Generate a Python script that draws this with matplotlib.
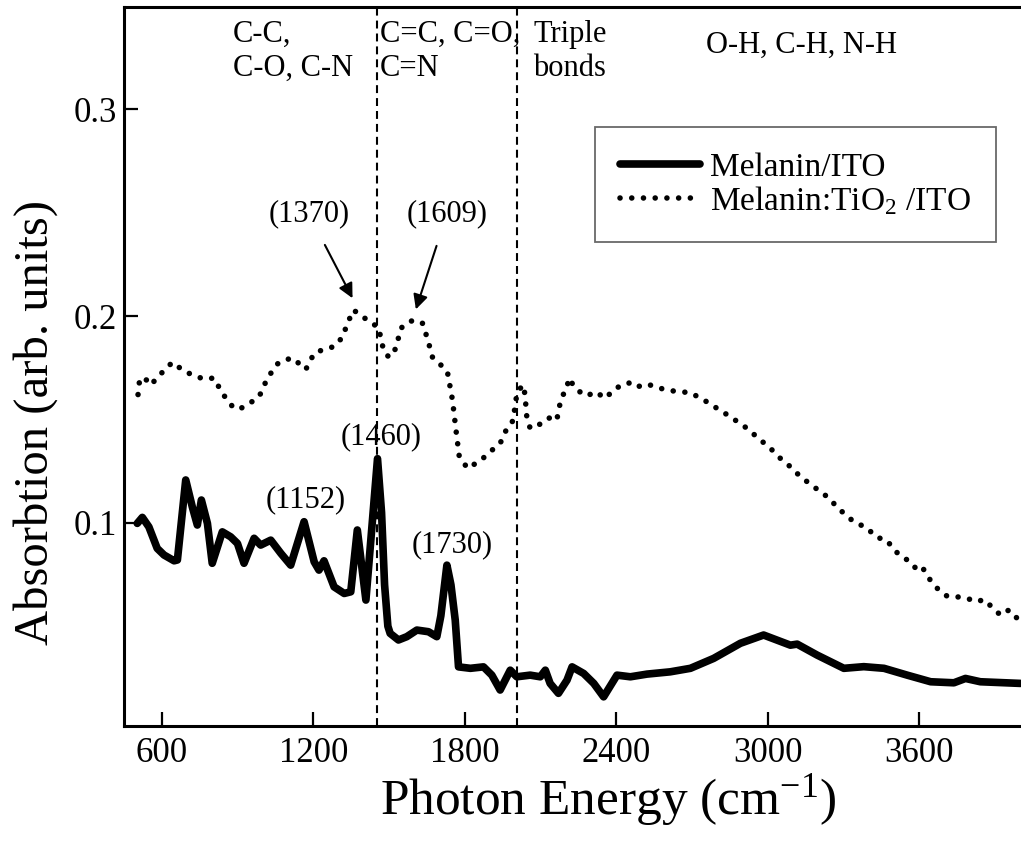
import matplotlib
matplotlib.use("Agg")
import matplotlib.pyplot as plt

plt.rcParams['font.family'] = ['Liberation Serif', 'DejaVu Serif']
plt.rcParams['mathtext.fontset'] = 'custom'
plt.rcParams['mathtext.rm'] = 'Liberation Serif'
plt.rcParams['mathtext.it'] = 'Liberation Serif:italic'

# Melanin/ITO (solid)
ito_x = [502, 522, 548, 581, 608, 648, 661, 694, 720, 740, 756, 780, 799, 839, 872, 899,
         925, 965, 991, 1031, 1071, 1110, 1163, 1203, 1222, 1242, 1282, 1322, 1348, 1374,
         1408, 1454, 1470, 1482, 1495, 1504, 1537, 1570, 1610, 1656, 1689, 1705, 1729,
         1745, 1762, 1775, 1822, 1874, 1907, 1940, 1980, 2006, 2059, 2099, 2119, 2138,
         2171, 2205, 2225, 2271, 2311, 2350, 2403, 2456, 2522, 2614, 2694, 2786, 2892,
         2984, 3090, 3117, 3196, 3302, 3381, 3461, 3553, 3646, 3738, 3784, 3843, 4002]
ito_y = [0.0997, 0.1026, 0.098, 0.0876, 0.0844, 0.0816, 0.082, 0.1207, 0.1077, 0.0989,
         0.111, 0.0997, 0.0804, 0.0956, 0.0932, 0.090, 0.0804, 0.0925, 0.0892, 0.0916,
         0.0852, 0.0795, 0.1005, 0.0811, 0.0771, 0.0816, 0.069, 0.0658, 0.0666, 0.0965,
         0.0626, 0.131, 0.105, 0.07, 0.05, 0.0465, 0.0433, 0.0449, 0.0481, 0.0473, 0.0449,
         0.055, 0.0795, 0.07, 0.0529, 0.0303, 0.0296, 0.0303, 0.0263, 0.0191, 0.0287,
         0.0255, 0.0263, 0.0255, 0.0287, 0.0223, 0.0175, 0.0239, 0.0303, 0.0271, 0.0223,
         0.0158, 0.0263, 0.0255, 0.0268, 0.0279, 0.0296, 0.0344, 0.0417, 0.0457, 0.0408,
         0.0413, 0.036, 0.0296, 0.0304, 0.0296, 0.0263, 0.0231, 0.0226, 0.0247, 0.0231,
         0.0223]

# Melanin:TiO2/ITO (dotted)
tio_x = [505, 512, 540, 555, 595, 641, 687, 730, 767, 806, 839, 885, 912, 950, 985, 1018,
         1057, 1090, 1123, 1150, 1170, 1203, 1242, 1282, 1315, 1335, 1359, 1394, 1434,
         1460, 1467, 1480, 1500, 1527, 1546, 1575, 1599, 1632, 1652, 1672, 1705, 1731,
         1751, 1765, 1778, 1811, 1864, 1916, 1940, 1967, 1993, 2000, 2013, 2033, 2039,
         2046, 2059, 2086, 2112, 2138, 2165, 2171, 2185, 2205, 2211, 2244, 2284, 2317,
         2357, 2396, 2449, 2476, 2522, 2575, 2628, 2694, 2747, 2800, 2852, 2918, 2964,
         3011, 3050, 3090, 3130, 3183, 3236, 3288, 3341, 3394, 3430, 3473, 3500, 3540,
         3566, 3590, 3612, 3640, 3672, 3711, 3778, 3830, 3857, 3923, 3956, 3996]
tio_y = [0.162, 0.170, 0.169, 0.1666, 0.172, 0.1776, 0.1734, 0.171, 0.1695, 0.170, 0.1626,
         0.1553, 0.1553, 0.158, 0.161, 0.170, 0.1768, 0.179, 0.1795, 0.176, 0.1742, 0.182,
         0.1839, 0.1852, 0.1897, 0.1965, 0.2029, 0.1997, 0.1965, 0.194, 0.189, 0.1827,
         0.180, 0.1844, 0.194, 0.197, 0.198, 0.1965, 0.189, 0.180, 0.1763, 0.173, 0.1594,
         0.1448, 0.132, 0.1263, 0.1303, 0.136, 0.1384, 0.1457, 0.1497, 0.1585, 0.1642,
         0.1666, 0.161, 0.1505, 0.1457, 0.1473, 0.1481, 0.151, 0.1497, 0.1545, 0.161,
         0.165, 0.1699, 0.1642, 0.1613, 0.1634, 0.1602, 0.165, 0.1677, 0.1655, 0.1671,
         0.165, 0.1637, 0.1629, 0.1594, 0.1553, 0.1513, 0.1457, 0.1408, 0.136, 0.1312,
         0.1271, 0.1223, 0.1174, 0.1126, 0.1061, 0.1005, 0.0975, 0.093, 0.0916, 0.0868,
         0.083, 0.0811, 0.0775, 0.0787, 0.073, 0.0683, 0.0645, 0.0639, 0.0618, 0.0629,
         0.0553, 0.0578, 0.0529]

region_lines = [1450, 2005]
x_ticks = [600, 1200, 1800, 2400, 3000, 3600]
y_ticks = [0.1, 0.2, 0.3]

fig = plt.figure(figsize=(10.21, 8.43), dpi=100)
ax = fig.add_axes([124/1021, 1-726/843, 1-124/1021, (726-6.7)/843])

ax.plot(ito_x, ito_y, color='black', lw=5.5, solid_joinstyle='round',
        solid_capstyle='round', label='Melanin/ITO', zorder=3)
ax.plot(tio_x, tio_y, color='black', lw=4.0, linestyle=(0, (0.01, 2.1)),
        dash_capstyle='round', label='Melanin:TiO$_2$ /ITO', zorder=3)

for xv in region_lines:
    ax.axvline(xv, color='black', lw=1.5, linestyle=(0, (3.8, 2.4)), zorder=2)

ax.set_xlim(449.4, 4004)
ax.set_ylim(0.0017, 0.3496)
ax.set_xticks(x_ticks)
ax.set_yticks(y_ticks)
ax.set_yticklabels(['0.1', '0.2', '0.3'])
ax.tick_params(axis='both', direction='in', length=10, width=1.6, labelsize=25,
               top=False, right=False)
ax.tick_params(axis='x', pad=8)
ax.tick_params(axis='y', pad=5)
for s in ['left', 'bottom', 'top']:
    ax.spines[s].set_linewidth(2.2)
ax.spines['right'].set_visible(False)

ax.set_xlabel('Photon Energy (cm$^{-1}$)', fontsize=37, va='center')
ax.xaxis.set_label_coords(0.5396, -0.103)
ax.set_ylabel('Absorbtion (arb. units)', fontsize=35, va='center')
ax.yaxis.set_label_coords(-0.0985, 0.4226)

fs = 22
ax.text(881, 0.328, 'C-C,\nC-O, C-N', fontsize=fs, ha='left', va='center', linespacing=1.2)
ax.text(1464, 0.328, 'C=C, C=O,\nC=N', fontsize=fs, ha='left', va='center', linespacing=1.2)
ax.text(2071, 0.328, 'Triple\nbonds', fontsize=fs, ha='left', va='center', linespacing=1.2)
ax.text(2756, 0.3311, 'O-H, C-H, N-H', fontsize=fs, ha='left', va='center')

ax.annotate('(1370)', xy=(1355, 0.2086), xytext=(1182, 0.2493), fontsize=fs,
            ha='center', va='center',
            arrowprops=dict(arrowstyle='-|>', color='black', lw=1.5,
                            mutation_scale=22, shrinkA=11, shrinkB=0))
ax.annotate('(1609)', xy=(1606, 0.2032), xytext=(1729, 0.2493), fontsize=fs,
            ha='center', va='center',
            arrowprops=dict(arrowstyle='-|>', color='black', lw=1.5,
                            mutation_scale=22, shrinkA=11, shrinkB=0))
ax.text(1170, 0.111, '(1152)', fontsize=fs, ha='center', va='center')
ax.text(1470, 0.1415, '(1460)', fontsize=fs, ha='center', va='center')
ax.text(1751, 0.0892, '(1730)', fontsize=fs, ha='center', va='center')

leg = ax.legend(loc='upper left', bbox_to_anchor=(595/1021, 1-127/843),
                bbox_transform=fig.transFigure, borderaxespad=0, fontsize=24,
                handlelength=2.4, handletextpad=0.3, borderpad=0.75, labelspacing=0.05,
                fancybox=False, frameon=True)
leg.get_frame().set_edgecolor('#444444')
leg.get_frame().set_linewidth(1.3)

fig.savefig('out.png', dpi=100)
